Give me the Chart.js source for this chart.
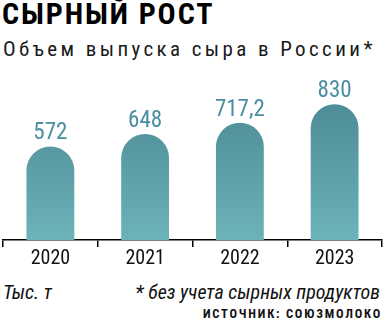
<!DOCTYPE html>
<html lang="ru">
<head>
<meta charset="utf-8">
<title>Сырный рост</title>
<script src="https://cdn.jsdelivr.net/npm/chart.js@4/dist/chart.umd.min.js"></script>
<style>
  html, body { margin: 0; padding: 0; background: #fff; }
  body { width: 384px; height: 322px; position: relative; overflow: hidden;
         font-family: 'Roboto Condensed', 'DejaVu Sans Condensed', sans-serif; color: #111; }
  div { white-space: nowrap; line-height: 1; }
  .title { position: absolute; left: 2px; top: -1px; font-size: 30px; font-weight: bold; letter-spacing: 1.9px; color: #000; }
  .subtitle { position: absolute; left: 3px; top: 39px; font-size: 21px; letter-spacing: 3.4px; color: #1a1a1a; }
  .wrap { position: absolute; left: 0; top: 60px; width: 384px; height: 210px; }
  .unit { position: absolute; left: 3px; top: 282px; font-size: 20px; font-style: italic; color: #111; }
  .note { position: absolute; right: 4px; top: 282px; font-size: 20px; font-style: italic; color: #111; }
  .source { position: absolute; right: 2px; top: 308px; font-size: 12.5px; font-weight: bold; letter-spacing: 1.8px; color: #111; }
</style>
</head>
<body>
<div class="title">СЫРНЫЙ РОСТ</div>
<div class="subtitle">Объем выпуска сыра в России*</div>
<div class="wrap"><canvas id="cheese"></canvas></div>
<div class="unit">Тыс. т</div>
<div class="note">* без учета сырных продуктов</div>
<div class="source">ИСТОЧНИК: СОЮЗМОЛОКО</div>

<script>
// production volume, thousand tonnes
var years = ['2020', '2021', '2022', '2023'];
var volumes = [572, 648, 717.2, 830];

var FONT = "'Roboto Condensed', 'DejaVu Sans Condensed', sans-serif";

function ruNumber(v) {
  return String(v).replace('.', ',');
}

// numbers above each bar
var valueLabels = {
  id: 'valueLabels',
  afterDatasetsDraw: function (chart) {
    var ctx = chart.ctx;
    var meta = chart.getDatasetMeta(0);
    ctx.save();
    ctx.font = '23px ' + FONT;
    ctx.fillStyle = '#4a8ea1';
    ctx.textAlign = 'center';
    ctx.textBaseline = 'alphabetic';
    meta.data.forEach(function (bar, i) {
      ctx.fillText(ruNumber(volumes[i]), bar.x, bar.y - 7);
    });
    ctx.restore();
  }
};

function barGradient(context) {
  var area = context.chart.chartArea;
  if (!area) return '#5fa0a8';
  var g = context.chart.ctx.createLinearGradient(0, area.bottom, 0, area.top);
  g.addColorStop(0, '#6cb3b8');
  g.addColorStop(1, '#44808b');
  return g;
}

new Chart(document.getElementById('cheese'), {
  type: 'bar',
  data: {
    labels: years,
    datasets: [{
      data: volumes,
      backgroundColor: barGradient,
      borderRadius: { topLeft: 100, topRight: 100, bottomLeft: 0, bottomRight: 0 },
      borderSkipped: 'bottom',
      categoryPercentage: 1,
      barPercentage: 0.505
    }]
  },
  options: {
    responsive: true,
    maintainAspectRatio: false,
    animation: false,
    layout: { padding: { left: 3, right: 2, top: 0, bottom: 0 } },
    plugins: {
      legend: { display: false },
      tooltip: { enabled: false }
    },
    scales: {
      y: { display: false, min: 0, max: 1100 },
      x: {
        afterFit: function (scale) { scale.height = 30; },
        border: { display: true, color: '#000', width: 1.5 },
        grid: { display: true, drawOnChartArea: false, color: '#000', lineWidth: 1.5, tickLength: 7, offset: true },
        ticks: { color: '#111', padding: 0, font: { family: FONT, size: 20 } }
      }
    }
  },
  plugins: [valueLabels]
});
</script>
</body>
</html>
